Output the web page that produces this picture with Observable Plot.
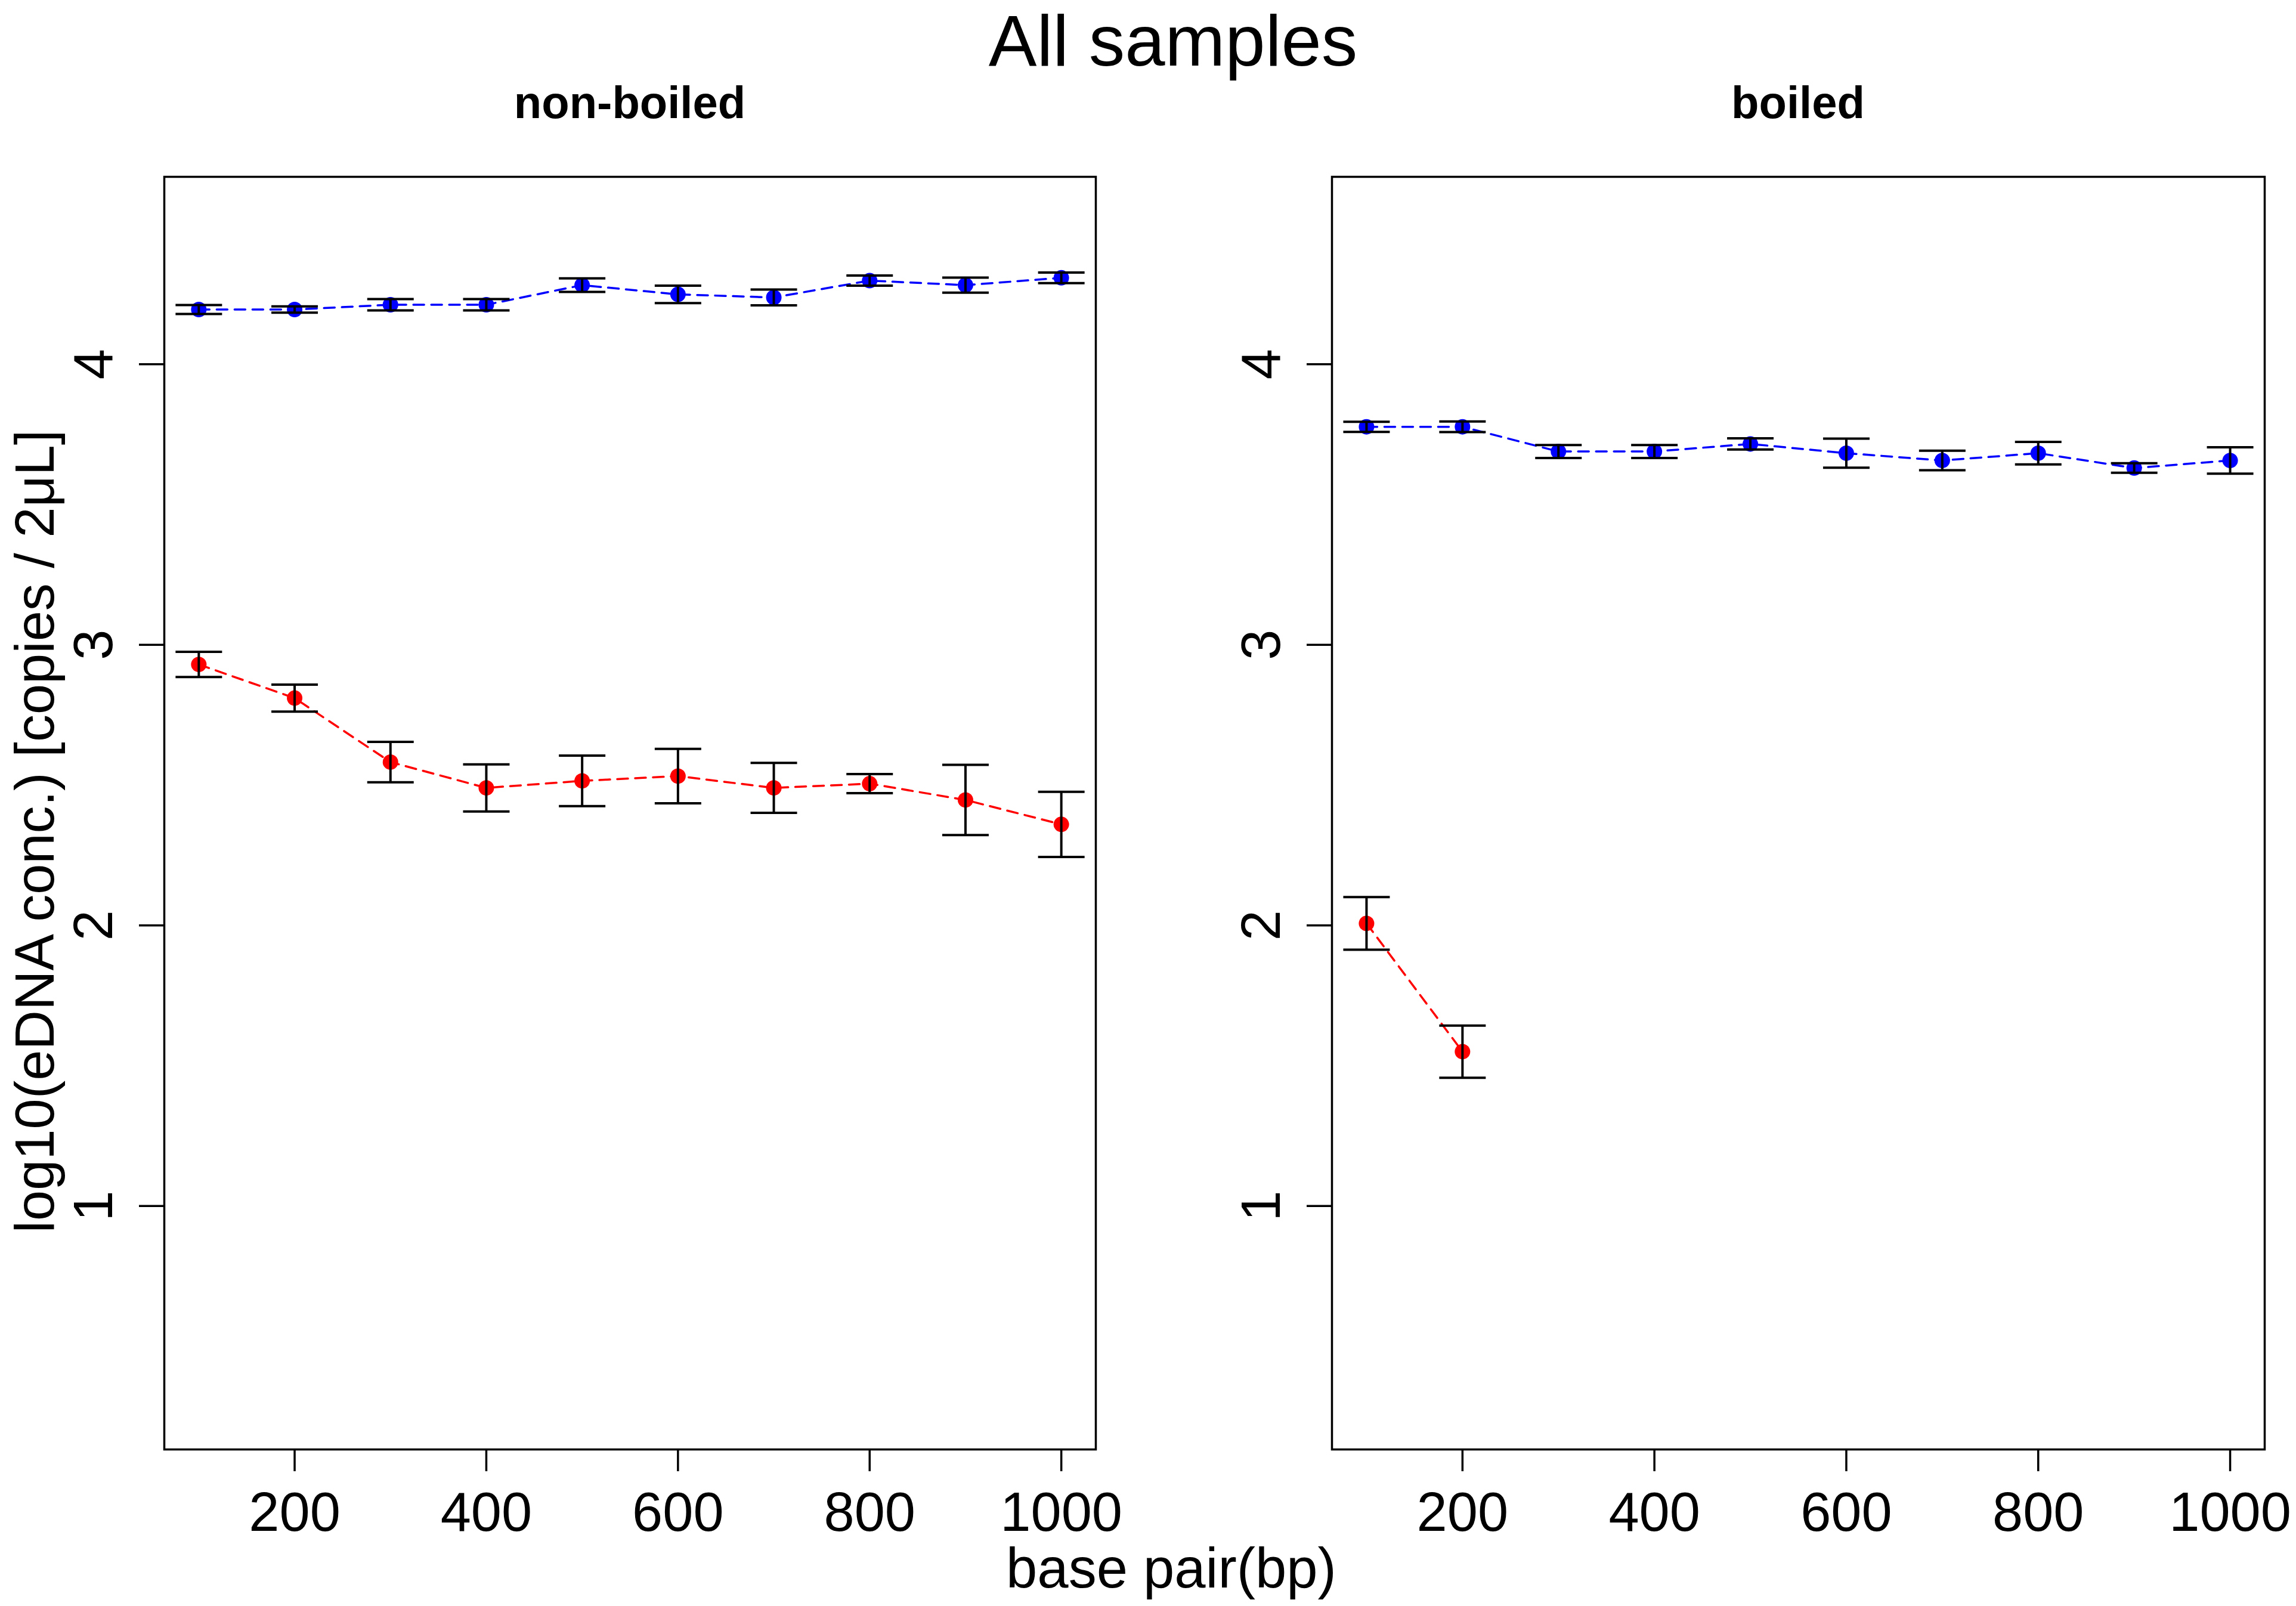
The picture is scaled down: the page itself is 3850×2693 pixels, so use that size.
<!DOCTYPE html>
<html>
<head>
<meta charset="utf-8">
<script src="https://cdn.jsdelivr.net/npm/d3@7"></script>
<script src="https://cdn.jsdelivr.net/npm/@observablehq/plot@0.6"></script>
<style>
  html, body { margin: 0; padding: 0; background: white; }
  #fig { position: relative; width: 3850px; height: 2693px; background: white; overflow: hidden;
         font-family: "Liberation Sans", Arial, sans-serif; color: black; }
  .panel { position: absolute; top: 0; width: 1925px; height: 2693px; }
  .txt { position: absolute; white-space: nowrap; line-height: 1; }
</style>
</head>
<body>
<div id="fig"></div>
<script>
// ---- data ----
const bp = [100, 200, 300, 400, 500, 600, 700, 800, 900, 1000];

// non-boiled
const nbBlue    = [4.195, 4.195, 4.212, 4.212, 4.282, 4.249, 4.238, 4.298, 4.282, 4.308];
const nbBlueErr = [0.016, 0.011, 0.020, 0.020, 0.024, 0.031, 0.028, 0.018, 0.027, 0.019];
const nbRed     = [2.930, 2.810, 2.582, 2.490, 2.515, 2.532, 2.490, 2.505, 2.447, 2.360];
const nbRedErr  = [0.045, 0.048, 0.072, 0.084, 0.090, 0.097, 0.089, 0.034, 0.125, 0.116];

// boiled
const bBlue     = [3.777, 3.777, 3.689, 3.689, 3.716, 3.683, 3.657, 3.683, 3.630, 3.657];
const bBlueErr  = [0.018, 0.019, 0.023, 0.023, 0.020, 0.052, 0.035, 0.040, 0.017, 0.047];
const bRedBp    = [100, 200];
const bRed      = [2.007, 1.550];
const bRedErr   = [0.094, 0.093];

const xTicks = [200, 400, 600, 800, 1000];
const yTicks = [1, 2, 3, 4];
const panelTitles = ["non-boiled", "boiled"];
const mainTitle = "All samples";
const xLabel = "base pair(bp)";
const yLabel = "log10(eDNA conc.) [copies / 2\u03bcL]";
const seriesColors = {blue: "#0000FF", red: "#FF0000"};

function rows(xs, ys, es, color) {
  return xs.map((x, i) => ({x, y: ys[i], lo: ys[i] - es[i], hi: ys[i] + es[i], color}));
}

const capSymbol = {
  draw(context, size) {
    const w = Math.sqrt(size / Math.PI);
    context.moveTo(-w, 0);
    context.lineTo(w, 0);
  }
};

function panel(series, marginLeft, marginRight) {
  const marks = [
    Plot.frame({stroke: "black", strokeWidth: 3.5}),
    Plot.axisX({ticks: xTicks, tickSize: 37, tickPadding: 34, tickFormat: d => String(d),
                label: null, strokeWidth: 3.5, fontSize: 92}),
    Plot.axisY({ticks: yTicks, tickSize: 42, tickPadding: 46, tickRotate: -90,
                tickFormat: d => String(d), label: null, strokeWidth: 3.5, fontSize: 92})
  ];
  for (const s of series) {
    marks.push(Plot.dot(s, {x: "x", y: "y", r: 13, fill: d => seriesColors[d.color], stroke: "none"}));
    marks.push(Plot.line(s, {x: "x", y: "y", stroke: d => seriesColors[d.color],
                             strokeWidth: 3.5, strokeDasharray: "18,12"}));
  }
  for (const s of series) {
    marks.push(Plot.ruleX(s, {x: "x", y1: "lo", y2: "hi", stroke: "black", strokeWidth: 4}));
    marks.push(Plot.dot(s, {x: "x", y: "lo", r: 39, symbol: capSymbol, fill: "none", stroke: "black", strokeWidth: 4}));
    marks.push(Plot.dot(s, {x: "x", y: "hi", r: 39, symbol: capSymbol, fill: "none", stroke: "black", strokeWidth: 4}));
  }
  return Plot.plot({
    width: 1925,
    height: 2693,
    marginTop: 296,
    marginBottom: 263,
    marginLeft,
    marginRight,
    style: {fontFamily: '"Liberation Sans", Arial, sans-serif', fontSize: "92px", color: "black", background: "white"},
    x: {domain: [64, 1036]},
    y: {domain: [0.132, 4.668]},
    color: {type: "identity"},
    marks
  });
}

const fig = document.getElementById("fig");

const left = document.createElement("div");
left.className = "panel"; left.style.left = "0px";
left.appendChild(panel([rows(bp, nbBlue, nbBlueErr, "blue"), rows(bp, nbRed, nbRedErr, "red")], 275, 88));
fig.appendChild(left);

const right = document.createElement("div");
right.className = "panel"; right.style.left = "1925px";
right.appendChild(panel([rows(bp, bBlue, bBlueErr, "blue"), rows(bRedBp, bRed, bRedErr, "red")], 308, 53));
fig.appendChild(right);

function addText(text, {cx, baseline, size, weight = "normal"}) {
  const d = document.createElement("div");
  d.className = "txt";
  d.textContent = text;
  d.style.fontSize = size + "px";
  d.style.fontWeight = weight;
  d.style.left = cx + "px";
  d.style.top = (baseline - 0.8465 * size) + "px";
  d.style.transform = "translateX(-50%)";
  fig.appendChild(d);
}

addText(mainTitle, {cx: 1967, baseline: 110, size: 121});
addText(panelTitles[0], {cx: 1056, baseline: 198, size: 76, weight: "bold"});
addText(panelTitles[1], {cx: 3015, baseline: 198, size: 76, weight: "bold"});
addText(xLabel, {cx: 1964, baseline: 2663, size: 94});

// rotated y label
(function () {
  const size = 92, W = 1800, cx = 58, cy = 1394;
  const d = document.createElement("div");
  d.className = "txt";
  d.textContent = yLabel;
  d.style.fontSize = size + "px";
  d.style.width = W + "px";
  d.style.height = size + "px";
  d.style.textAlign = "center";
  d.style.left = (cx - W / 2) + "px";
  d.style.top = (cy - size / 2) + "px";
  d.style.transform = "rotate(-90deg)";
  fig.appendChild(d);
})();
</script>
</body>
</html>
